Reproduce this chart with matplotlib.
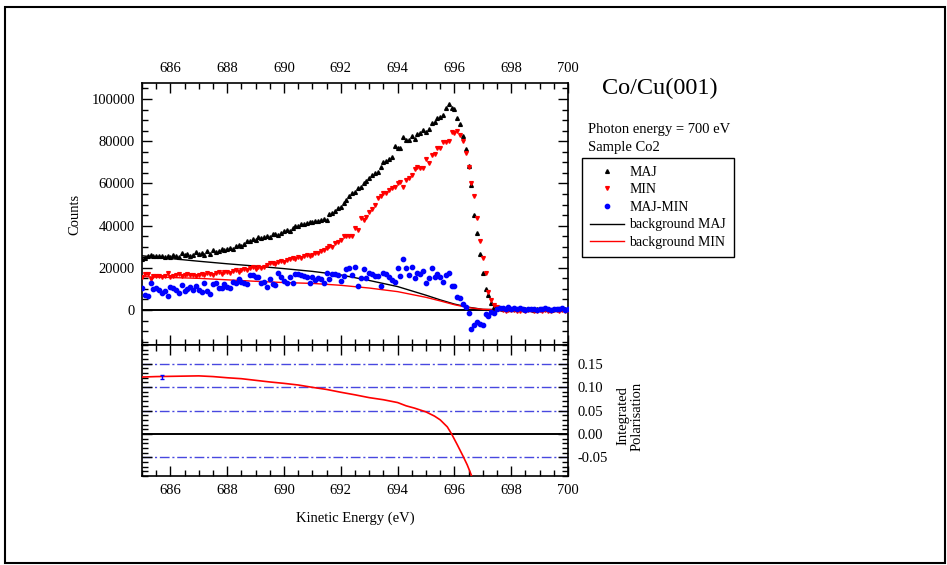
import matplotlib
matplotlib.use("Agg")
import matplotlib.pyplot as plt
from matplotlib.ticker import MultipleLocator, FormatStrFormatter
from matplotlib.patches import Rectangle

plt.rcParams['font.family'] = ['Liberation Serif', 'DejaVu Serif']
plt.rcParams['axes.unicode_minus'] = False

# ---------------- data ----------------
energy = [
    685.0, 685.1, 685.2, 685.3, 685.4, 685.5, 685.6, 685.7, 685.8, 685.9,
    686.0, 686.1, 686.2, 686.3, 686.4, 686.5, 686.6, 686.7, 686.8, 686.9,
    687.0, 687.1, 687.2, 687.3, 687.4, 687.5, 687.6, 687.7, 687.8, 687.9,
    688.0, 688.1, 688.2, 688.3, 688.4, 688.5, 688.6, 688.7, 688.8, 688.9,
    689.0, 689.1, 689.2, 689.3, 689.4, 689.5, 689.6, 689.7, 689.8, 689.9,
    690.0, 690.1, 690.2, 690.3, 690.4, 690.5, 690.6, 690.7, 690.8, 690.9,
    691.0, 691.1, 691.2, 691.3, 691.4, 691.5, 691.6, 691.7, 691.8, 691.9,
    692.0, 692.1, 692.2, 692.3, 692.4, 692.5, 692.6, 692.7, 692.8, 692.9,
    693.0, 693.1, 693.2, 693.3, 693.4, 693.5, 693.6, 693.7, 693.8, 693.9,
    694.0, 694.1, 694.2, 694.3, 694.4, 694.5, 694.6, 694.7, 694.8, 694.9,
    695.0, 695.1, 695.2, 695.3, 695.4, 695.5, 695.6, 695.7, 695.8, 695.9,
    696.0, 696.1, 696.2, 696.3, 696.4, 696.5, 696.6, 696.7, 696.8, 696.9,
    697.0, 697.1, 697.2, 697.3, 697.4, 697.5, 697.6, 697.7, 697.8, 697.9,
    698.0, 698.1, 698.2, 698.3, 698.4, 698.5, 698.6, 698.7, 698.8, 698.9,
    699.0, 699.1, 699.2, 699.3, 699.4, 699.5, 699.6, 699.7, 699.8, 699.9,
    700.0,
]

maj = [
    24000, 24500, 25500, 26000, 25500, 25800, 25500, 25800, 25000, 25600,
    25200, 26000, 25400, 25000, 26800, 26000, 26500, 25800, 26200, 27300,
    26600, 27000, 26200, 27800, 26500, 28500, 27300, 27800, 29000, 28200,
    28900, 29500, 29000, 30500, 31000, 30300, 31200, 32800, 32600, 33800,
    33400, 34500, 34000, 34800, 35300, 34800, 35800, 36200, 35500, 36600,
    37600, 38000, 37400, 38800, 39600, 40000, 40800, 40600, 41300, 41800,
    41900, 42400, 42300, 42800, 43000, 42800, 45500, 46000, 47000, 48200,
    49000, 50600, 52000, 54000, 55500, 56000, 57800, 58500, 60200, 61300,
    62600, 64000, 65000, 65600, 68000, 70000, 70800, 71500, 72700, 77900,
    76600, 77000, 81800, 80800, 80600, 82500, 80900, 83300, 84000, 85300,
    84500, 85600, 88800, 88900, 90900, 91600, 92400, 95600, 97600, 95600,
    95100, 91200, 88200, 82500, 76400, 68400, 59200, 45000, 36300, 26500,
    17400, 9800, 7100, 3200, 1600, 1000, 800, 600, 500, 700,
    600, 400, 500, 700, 300, 500, 600, 400, 200, 500,
    400, 300, 500, 600, 200, 400, 300, 500, 400, 300,
    400,
]

mnr = [
    15800, 17100, 17100, 14800, 16200, 16000, 16200, 15800, 16000, 17600,
    15800, 16200, 16600, 17000, 16000, 16600, 17100, 16600, 16800, 16200,
    16800, 17000, 16600, 17400, 17000, 16800, 17600, 18000, 17200, 17800,
    18200, 17600, 18500, 18800, 18200, 19000, 19300, 19000, 19800, 20200,
    19600, 20500, 20000, 20500, 21200, 22100, 22500, 22000, 22800, 23000,
    22900, 23600, 24000, 24500, 24200, 25000, 24500, 25600, 26000, 25800,
    26100, 26800, 27200, 28000, 28500, 29200, 30300, 30000, 31600, 32000,
    33000, 35100, 35100, 35100, 35300, 38700, 37900, 43500, 42700, 44000,
    46600, 48100, 50000, 52900, 54000, 55300, 55500, 57000, 57700, 58500,
    60000, 60800, 58400, 61600, 62500, 64000, 66800, 67600, 67200, 67500,
    71400, 69500, 73500, 74000, 76600, 77000, 79800, 79800, 80300, 84500,
    84000, 84900, 82900, 80100, 74500, 67900, 60000, 54000, 43500, 32700,
    24500, 17400, 8700, 4500, 2400, 1200, 500, 0, -300, 200,
    -200, 0, -500, -300, 100, -400, -200, 0, -600, -300,
    -100, -400, 0, -300, -500, -200, 100, -300, -200, -400,
    -200,
]

diff = [
    10600, 7100, 6600, 12900, 9900, 10300, 9500, 7900, 9200, 6600,
    10700, 10600, 9500, 7900, 11800, 9200, 9900, 10700, 9500, 11200,
    9500, 8700, 12600, 9200, 7600, 12300, 12600, 10600, 10600, 12300,
    11000, 10600, 13400, 12900, 14500, 13400, 12900, 12300, 16600, 16600,
    15500, 15500, 12600, 13400, 10700, 14800, 12300, 11800, 17700, 15800,
    13900, 12900, 15800, 12600, 16900, 16900, 16600, 16100, 15800, 12900,
    15500, 14000, 15000, 14500, 12600, 17700, 14700, 17100, 17100, 16600,
    13900, 16100, 19300, 19800, 16600, 20200, 11200, 15000, 19300, 15000,
    17400, 17100, 16000, 16100, 11200, 17400, 17100, 15800, 14200, 13100,
    20100, 16100, 24000, 19800, 16600, 20200, 15000, 17400, 17100, 18600,
    12600, 15000, 20100, 15800, 17100, 15500, 13400, 16600, 17400, 11200,
    11200, 6300, 5500, 2800, 1600, -1300, -9200, -7100, -5800, -6800,
    -7100, -1900, -2700, -800, -1300, 500, 800, 1000, 600, 1200,
    400, 800, 300, 900, 500, 200, 700, 400, 600, -200,
    500, 300, 800, 400, 100, 600, 300, 500, 900, 200,
    600,
]

bg_energy = [685, 686, 687, 688, 689, 690, 691, 692, 693, 694, 695, 695.5,
             696, 696.5, 697, 698, 700]
bg_maj = [25700, 24400, 23100, 21900, 20800, 19600, 18300, 16600, 14000,
          11100, 7000, 4800, 2800, 1300, 300, 0, 0]
bg_min = [15800, 15400, 15000, 14300, 13600, 13000, 12600, 11700, 10400,
          8700, 6000, 4300, 2500, 1100, 300, 0, 0]

pol_energy = [685.0, 685.5, 686.0, 686.5, 687.0, 687.5, 688.0, 688.5, 689.0,
              689.5, 690.0, 690.5, 691.0, 691.5, 692.0, 692.5, 693.0, 693.5,
              694.0, 694.3, 694.6, 695.0, 695.3, 695.5, 695.75, 695.9, 696.1,
              696.3, 696.45, 696.55, 696.7]
pol = [0.1215, 0.1225, 0.123, 0.1235, 0.124, 0.1225, 0.120, 0.118, 0.1145,
       0.111, 0.108, 0.1045, 0.0995, 0.095, 0.089, 0.0835, 0.0775, 0.073,
       0.067, 0.060, 0.055, 0.047, 0.038, 0.030, 0.015, 0.0, -0.023,
       -0.047, -0.066, -0.081, -0.105]
pol_err_x = [685.7]
pol_err_y = [0.122]
pol_err = [0.004]
ref_levels = [0.15, 0.10, 0.05, -0.05]

# ---------------- figure ----------------
W, H = 947, 565
fig = plt.figure(figsize=(W / 100, H / 100), dpi=100)

def fx(px):
    return px / W

def fy(py):
    return 1 - py / H

L, R = 142, 568
T1, B1 = 83, 345
B2 = 476
ax1 = fig.add_axes([fx(L), fy(B1), fx(R - L), (B1 - T1) / H])
ax2 = fig.add_axes([fx(L), fy(B2), fx(R - L), (B2 - B1) / H])

# outer frame
fig.patches.append(Rectangle((fx(5), fy(563)), fx(940), (563 - 7) / H,
                             transform=fig.transFigure, fill=False,
                             edgecolor='black', linewidth=1.5))

TL = 10.5

# upper panel
ax1.axhline(0, color='black', lw=1.4, zorder=1)
ax1.plot(bg_energy, bg_maj, color='black', lw=1.0, label='background MAJ', zorder=2)
ax1.plot(bg_energy, bg_min, color='red', lw=1.0, label='background MIN', zorder=2)
ax1.plot(energy, maj, ls='none', marker='^', ms=2.7, color='black', mec='black', label='MAJ', zorder=3)
ax1.plot(energy, mnr, ls='none', marker='v', ms=2.7, color='red', mec='red', label='MIN', zorder=3)
ax1.plot(energy, diff, ls='none', marker='o', ms=3.1, color='blue', mec='blue', label='MAJ-MIN', zorder=3)

ax1.set_xlim(685, 700)
ax1.set_ylim(-16600, 107600)
ax1.xaxis.set_major_locator(MultipleLocator(2))
ax1.xaxis.set_minor_locator(MultipleLocator(0.5))
ax1.yaxis.set_major_locator(MultipleLocator(20000))
ax1.yaxis.set_minor_locator(MultipleLocator(5000))
ax1.ticklabel_format(axis='y', style='plain')
ax1.tick_params(which='both', direction='in', top=True, bottom=True,
                left=True, right=True, labeltop=True, labelbottom=False,
                labelsize=TL, width=1.0)
ax1.tick_params(which='major', length=7)
ax1.tick_params(which='minor', length=4)
ax1.tick_params(axis='x', which='major', pad=6)
ax1.tick_params(axis='y', which='major', pad=5)
ax1.set_ylabel('Counts', fontsize=10.5, labelpad=7)
for s in ax1.spines.values():
    s.set_linewidth(1.2)

# lower panel
for lv in ref_levels:
    ax2.axhline(lv, color='#4848e0', lw=1.0, dashes=(7, 2, 1.5, 2), zorder=1)
ax2.axhline(0, color='black', lw=1.4, zorder=1)
ax2.plot(pol_energy, pol, color='red', lw=1.2, zorder=3)
ax2.errorbar(pol_err_x, pol_err_y, yerr=pol_err, fmt='none', ecolor='blue',
             elinewidth=1.0, capsize=1.5, zorder=4)
ax2.set_xlim(685, 700)
ax2.set_ylim(-0.09, 0.19)
ax2.xaxis.set_major_locator(MultipleLocator(2))
ax2.xaxis.set_minor_locator(MultipleLocator(0.5))
ax2.yaxis.set_major_locator(MultipleLocator(0.05))
ax2.yaxis.set_minor_locator(MultipleLocator(0.01))
ax2.yaxis.set_major_formatter(FormatStrFormatter('%.2f'))
ax2.tick_params(which='both', direction='in', top=True, bottom=True,
                left=True, right=True, labelleft=False, labelright=True,
                labelsize=TL, width=1.0)
ax2.tick_params(which='major', length=7)
ax2.tick_params(which='minor', length=4)
ax2.tick_params(axis='y', which='major', pad=7)
ax2.tick_params(axis='x', which='major', pad=6)
ax2.set_xlabel('Kinetic Energy (eV)', fontsize=10.5, labelpad=10)
for s in ax2.spines.values():
    s.set_linewidth(1.2)

fig.text(fx(630), fy(416), 'Integrated\nPolarisation', rotation=90,
         ha='center', va='center', fontsize=10.5, multialignment='center',
         linespacing=1.1)

# annotations
fig.text(fx(660), fy(88), 'Co/Cu(001)', ha='center', va='center', fontsize=17.5)
fig.text(fx(588), fy(130), 'Photon energy = 700 eV', ha='left', va='center', fontsize=10.5)
fig.text(fx(588), fy(147), 'Sample Co2', ha='left', va='center', fontsize=10.5)

h, l = ax1.get_legend_handles_labels()
order = [l.index(k) for k in ['MAJ', 'MIN', 'MAJ-MIN', 'background MAJ', 'background MIN']]
leg = fig.legend([h[i] for i in order], [l[i] for i in order],
                 loc='upper left', bbox_to_anchor=(fx(582), fy(158)),
                 fontsize=10, frameon=True, fancybox=False, framealpha=1,
                 edgecolor='black', numpoints=1, handlelength=2.5,
                 handletextpad=0.35, labelspacing=0.33, borderpad=0.55,
                 borderaxespad=0)
leg.get_frame().set_linewidth(1.0)

fig.savefig('out.png', dpi=100)
